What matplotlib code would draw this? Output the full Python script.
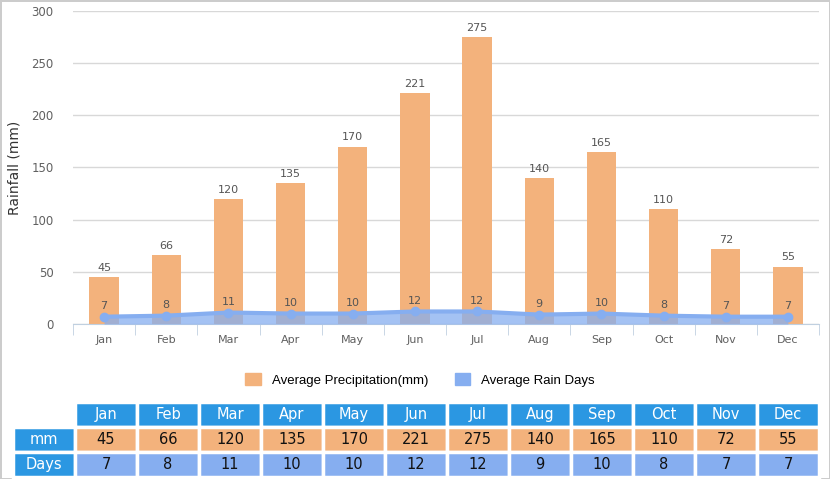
import matplotlib.pyplot as plt
from matplotlib.patches import Patch

months = ["Jan", "Feb", "Mar", "Apr", "May", "Jun", "Jul", "Aug", "Sep", "Oct", "Nov", "Dec"]
rainfall_mm = [45, 66, 120, 135, 170, 221, 275, 140, 165, 110, 72, 55]
rain_days = [7, 8, 11, 10, 10, 12, 12, 9, 10, 8, 7, 7]

orange = "#F3B27C"
blue = "#86AEF0"
header_blue = "#2B97E2"

fig = plt.figure(figsize=(8.3, 4.79), dpi=100)
fig.patch.set_edgecolor("#CCCCCC")
fig.patch.set_linewidth(2)

ax = fig.add_axes([73 / 830, 1 - 324 / 479, 746 / 830, 313 / 479])
x = list(range(len(months)))

bars = ax.bar(x, rainfall_mm, width=0.47, color=orange, zorder=2)
for xi, v in zip(x, rainfall_mm):
    ax.text(xi, v + 4, str(v), ha="center", va="bottom", fontsize=8, color="#555555")

ax.fill_between(x, rain_days, 0, color=blue, alpha=0.75, linewidth=0, zorder=3)
ax.plot(x, rain_days, color=blue, linewidth=3, marker="o", markersize=6, zorder=4)
for xi, v in zip(x, rain_days):
    ax.text(xi, v + 5, str(v), ha="center", va="bottom", fontsize=8, color="#555555", zorder=5)

ax.set_xlim(-0.5, 11.5)
ax.set_ylim(0, 300)
ax.set_yticks(range(0, 301, 50))
ax.set_xticks(x)
ax.set_xticklabels(months)
ax.set_xticks([i - 0.5 for i in range(13)], minor=True)
ax.tick_params(axis="x", which="major", length=0, labelsize=8, colors="#606060", pad=8)
ax.tick_params(axis="x", which="minor", length=8, color="#C0D0E0")
ax.tick_params(axis="y", length=0, labelsize=8.5, colors="#606060", pad=14)
ax.grid(axis="y", color="#D8D8D8", linewidth=1, zorder=0)
ax.set_axisbelow(True)
for s in ["top", "right", "left"]:
    ax.spines[s].set_visible(False)
ax.spines["bottom"].set_color("#C0D0E0")
ax.set_ylabel("Rainfall (mm)", fontsize=10, color="#333333")
ax.yaxis.set_label_coords(-51 / 746, 0.5)

handles = [Patch(color=orange, label="Average Precipitation(mm)"),
           Patch(color=blue, label="Average Rain Days")]
fig.legend(handles=handles, loc="center", bbox_to_anchor=(420 / 830, 1 - 380 / 479),
           ncol=2, frameon=False, handlelength=1.2, handleheight=1.0,
           columnspacing=2.0, prop={"family": "Liberation Sans", "size": 9.5})

tax = fig.add_axes([13 / 830, 1 - 477 / 479, 806 / 830, 75 / 479])
tax.axis("off")
cell_text = [[""] + months,
             ["mm"] + [str(v) for v in rainfall_mm],
             ["Days"] + [str(v) for v in rain_days]]
colors = [["white"] + [header_blue] * 12,
          [header_blue] + [orange] * 12,
          [header_blue] + [blue] * 12]
table = tax.table(cellText=cell_text, cellColours=colors, cellLoc="center",
                  bbox=[0, 0, 1, 1])
table.auto_set_font_size(False)
for (r, c), cell in table.get_celld().items():
    cell.set_edgecolor("white")
    cell.set_linewidth(2.5)
    txt = cell.get_text()
    txt.set_fontsize(10.5)
    if r == 0 or c == 0:
        txt.set_color("white")
    else:
        txt.set_color("#111111")

fig.savefig("out.png", dpi=100)
